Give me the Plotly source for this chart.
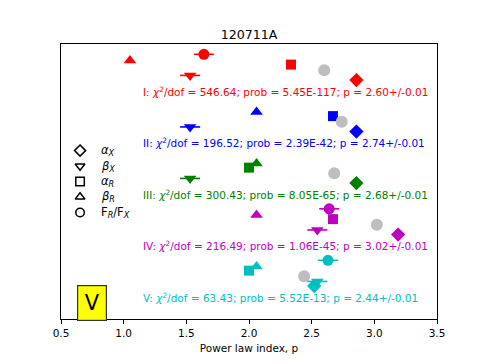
import plotly.graph_objects as go

# Werte (Power law index p) je Gruppe I..V
gruppen = ["I", "II", "III", "IV", "V"]
farben = ["#FF0000", "#0000FF", "#008000", "#BF00BF", "#00BFBF"]
chi2 = ["546.64", "196.52", "300.43", "216.49", "63.43"]
prob = ["5.45E-117", "2.39E-42", "8.05E-65", "1.06E-45", "5.52E-13"]
p_fit = [2.60, 2.74, 2.68, 3.02, 2.44]
p_fit_err = ["0.01", "0.01", "0.01", "0.01", "0.01"]

alpha_x = [2.857, 2.857, 2.857, 3.19, 2.52]
beta_x = [1.53, 1.53, 1.53, 2.545, 2.545]
beta_x_err = [0.08, 0.08, 0.08, 0.08, 0.08]
alpha_r = [2.335, 2.67, 2.0, 2.67, 2.0]
beta_r = [1.05, 2.06, 2.06, 2.06, 2.06]
ratio = [1.64, None, None, 2.64, 2.63]
ratio_err = [0.08, 0, 0, 0.08, 0.08]

legende_labels = ["<i>α<sub>X</sub></i>", "<i>β<sub>X</sub></i>", "<i>α<sub>R</sub></i>",
                  "<i>β<sub>R</sub></i>", "F<sub><i>R</i></sub>/F<sub><i>X</i></sub>"]
legende_symbole = ["diamond-open", "triangle-down-open", "square-open", "triangle-up-open", "circle-open"]

# vertikale Position (Einheiten = Gruppenabstand), y-Achse nach unten
text_y = [0.92 + k for k in range(5)]
off = {"ratio": -0.72, "beta_r": -0.60, "alpha_r": -0.52, "fit": -0.41, "beta_x": -0.31, "alpha_x": -0.22}

fig = go.Figure()

for k, g in enumerate(gruppen):
    c = farben[k]
    y0 = text_y[k]
    if ratio[k] is not None:
        fig.add_trace(go.Scatter(x=[ratio[k]], y=[y0 + off["ratio"]], mode="markers",
                                 marker=dict(symbol="circle", size=11, color=c),
                                 error_x=dict(type="data", array=[ratio_err[k]], color=c, thickness=1.6, width=0)))
    fig.add_trace(go.Scatter(x=[beta_r[k]], y=[y0 + off["beta_r"]], mode="markers",
                             marker=dict(symbol="triangle-up", size=11, color=c)))
    fig.add_trace(go.Scatter(x=[alpha_r[k]], y=[y0 + off["alpha_r"]], mode="markers",
                             marker=dict(symbol="square", size=10, color=c)))
    fig.add_trace(go.Scatter(x=[p_fit[k]], y=[y0 + off["fit"]], mode="markers",
                             marker=dict(symbol="circle", size=12, color="#BEBEBE")))
    fig.add_trace(go.Scatter(x=[beta_x[k]], y=[y0 + off["beta_x"]], mode="markers",
                             marker=dict(symbol="triangle-down", size=11, color=c),
                             error_x=dict(type="data", array=[beta_x_err[k]], color=c, thickness=1.6, width=0)))
    fig.add_trace(go.Scatter(x=[alpha_x[k]], y=[y0 + off["alpha_x"]], mode="markers",
                             marker=dict(symbol="diamond", size=11, color=c)))
    fig.add_annotation(x=1.14, y=y0, xanchor="left", yanchor="middle", showarrow=False,
                       text=f"{g}: <i>χ</i><sup>2</sup>/dof = {chi2[k]}; prob = {prob[k]}; p = {p_fit[k]:.2f}+/-{p_fit_err[k]}",
                       font=dict(color=c, size=10.5))

# Legende (hohle Symbole)
leg_y = [2.07 + 0.3 * i for i in range(5)]
fig.add_trace(go.Scatter(x=[0.652] * 5, y=leg_y, mode="markers",
                         marker=dict(symbol=legende_symbole, size=8.5, color="black", line=dict(width=1.5, color="black"))))
for lab, yy in zip(legende_labels, leg_y):
    fig.add_annotation(x=0.80, y=yy, xanchor="left", yanchor="middle", showarrow=False,
                       text=lab, font=dict(size=11.5, color="black"))

fig.add_annotation(x=0.745, y=5.02, xanchor="center", yanchor="middle", showarrow=False,
                   text="V", font=dict(size=21, color="black"), bgcolor="yellow",
                   bordercolor="#333333", borderwidth=1.2, borderpad=4, width=20, height=26)

# Seite hat 8px Rand -> Figur etwas kleiner
fig.update_layout(
    width=477, height=356,
    margin=dict(l=53, r=48, t=36, b=40),
    paper_bgcolor="white", plot_bgcolor="white",
    showlegend=False,
    font=dict(family="DejaVu Sans", size=10.5, color="black"),
    title=dict(text="120711A", x=0.5, xref="paper", xanchor="center", y=1, yref="paper",
               yanchor="bottom", pad=dict(b=5), font=dict(size=12.6)),
    xaxis=dict(range=[0.5, 3.5], dtick=0.5, tickformat=".1f", showgrid=False, zeroline=False,
               showline=True, linecolor="black", linewidth=1, mirror=True,
               ticks="outside", ticklen=3.5, tickcolor="black", ticklabelstandoff=1,
               title=dict(text="Power law index, p", font=dict(size=10.5), standoff=6)),
    yaxis=dict(range=[5.339, 0], showgrid=False, zeroline=False, showticklabels=False,
               showline=True, linecolor="black", linewidth=1, mirror=True, ticks=""),
)

fig.write_html("out.html")
